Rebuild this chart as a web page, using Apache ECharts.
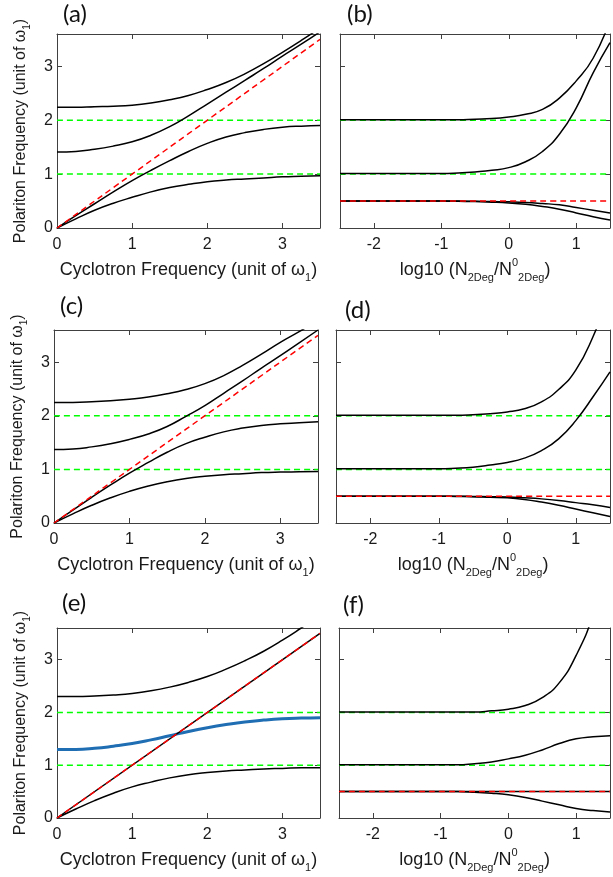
<!DOCTYPE html>
<html>
<head>
<meta charset="utf-8">
<title>Polariton frequencies</title>
<script src="https://cdn.jsdelivr.net/npm/echarts@6.0.0/dist/echarts.min.js"></script>
<style>
  html, body { margin: 0; padding: 0; background: #fff; }
  #chart { width: 613px; height: 877px; }
</style>
</head>
<body>
<div id="chart"></div>
<script>
// sample positions: cyclotron frequency (left column), log10 density (right column)
const xCyc = [0, 0.25, 0.5, 0.75, 1, 1.25, 1.5, 1.75, 2, 2.25, 2.5, 2.75, 3, 3.25, 3.5];
const xLog = [-2.5, -2, -1.5, -1, -0.75, -0.5, -0.25, 0, 0.25, 0.5, 0.75, 1, 1.25, 1.5];

// (a)
const aLow  = [0, 0.17, 0.33, 0.46, 0.57, 0.67, 0.75, 0.81, 0.86, 0.89, 0.91, 0.93, 0.95, 0.96, 0.97];
const aMid1 = [0, 0.23, 0.45, 0.67, 0.88, 1.07, 1.25, 1.42, 1.57, 1.69, 1.77, 1.83, 1.87, 1.89, 1.9];
const aMid2 = [1.41, 1.42, 1.46, 1.52, 1.6, 1.72, 1.88, 2.08, 2.3, 2.52, 2.74, 2.96, 3.19, 3.41, 3.64];
const aUp   = [2.24, 2.24, 2.25, 2.26, 2.28, 2.32, 2.38, 2.46, 2.57, 2.7, 2.86, 3.05, 3.26, 3.48, 3.71];
// (c)
const cLow  = [0, 0.17, 0.33, 0.47, 0.59, 0.69, 0.77, 0.83, 0.87, 0.9, 0.92, 0.94, 0.95, 0.955, 0.96];
const cMid1 = [0, 0.24, 0.48, 0.71, 0.93, 1.13, 1.32, 1.48, 1.6, 1.7, 1.77, 1.82, 1.85, 1.87, 1.89];
const cMid2 = [1.37, 1.38, 1.42, 1.48, 1.56, 1.66, 1.8, 1.99, 2.19, 2.42, 2.65, 2.89, 3.12, 3.36, 3.6];
const cUp   = [2.25, 2.25, 2.26, 2.28, 2.31, 2.35, 2.41, 2.49, 2.6, 2.75, 2.94, 3.15, 3.37, 3.57, 3.78];
// (e)
const eLow  = [0, 0.17, 0.33, 0.47, 0.59, 0.68, 0.76, 0.82, 0.86, 0.89, 0.91, 0.93, 0.94, 0.95, 0.95];
const eBlue = [1.3, 1.3, 1.32, 1.36, 1.41, 1.48, 1.56, 1.64, 1.71, 1.77, 1.82, 1.855, 1.88, 1.893, 1.9];
const eUp   = [2.3, 2.3, 2.31, 2.33, 2.36, 2.41, 2.48, 2.57, 2.68, 2.82, 2.98, 3.16, 3.37, 3.6, 3.84];
// (b)
const bUp   = [2.01, 2.01, 2.01, 2.01, 2.01, 2.02, 2.03, 2.06, 2.11, 2.2, 2.41, 2.73, 3.15, 3.85];
const bMid  = [1.01, 1.01, 1.01, 1.01, 1.02, 1.04, 1.07, 1.12, 1.23, 1.42, 1.74, 2.23, 2.88, 3.44];
const bLowA = [0.5, 0.5, 0.5, 0.5, 0.5, 0.495, 0.49, 0.485, 0.475, 0.455, 0.43, 0.38, 0.33, 0.28];
const bLowB = [0.5, 0.5, 0.5, 0.5, 0.495, 0.49, 0.48, 0.465, 0.44, 0.4, 0.35, 0.28, 0.21, 0.15];
// (d)
const dUp   = [2.01, 2.01, 2.01, 2.01, 2.01, 2.02, 2.04, 2.07, 2.13, 2.26, 2.49, 2.85, 3.47, 4.3];
const dMid  = [1.01, 1.01, 1.01, 1.01, 1.02, 1.04, 1.08, 1.13, 1.21, 1.35, 1.57, 1.91, 2.35, 2.82];
const dLowA = [0.5, 0.5, 0.5, 0.5, 0.5, 0.495, 0.49, 0.485, 0.47, 0.45, 0.42, 0.38, 0.34, 0.29];
const dLowB = [0.5, 0.5, 0.5, 0.5, 0.495, 0.49, 0.48, 0.47, 0.44, 0.39, 0.33, 0.26, 0.19, 0.12];
// (f)
const fUp   = [2.01, 2.01, 2.01, 2.01, 2.01, 2.01, 2.03, 2.06, 2.13, 2.28, 2.56, 3.08, 3.85, 5.0];
const fMid  = [1.01, 1.01, 1.01, 1.01, 1.01, 1.03, 1.06, 1.12, 1.19, 1.29, 1.41, 1.5, 1.54, 1.56];
const fLow  = [0.5, 0.5, 0.5, 0.5, 0.5, 0.49, 0.47, 0.44, 0.39, 0.32, 0.25, 0.18, 0.14, 0.115];

// straight reference lines
const cycSpan = [0, 3.5];
const logSpan = [-2.5, 1.5];
const cyclotronLine = [0, 3.5];   // y = x
const cavityModes = [1, 2];
const bareLevel = 0.5;
const yRange = [0, 3.6];

const panelTags = ['(a)', '(b)', '(c)', '(d)', '(e)', '(f)'];

const BLACK = '#000';
const GREEN = '#00ff00';
const RED = '#ff0000';
const BLUE = '#1f6db3';
const AXIS = '#404040';
const TEXT = '#1a1a1a';
const FONT = 'Liberation Sans, Arial, sans-serif';

const xNameCyc = '{n|Cyclotron Frequency (unit of ω}{s|1}{n|)}';
const xNameLog = '{n|log10 (N}{s|2Deg}{n|/N}{p|0}{s|2Deg}{n|)}';
const yName = '{n|Polariton Frequency (unit of ω}{s|1}{n|)}';

const panels = [
  { side: 'cyc', box: [57, 34, 263, 194], tag: [63, 2],
    black: [[xCyc, aLow], [xCyc, aMid1], [xCyc, aMid2], [xCyc, aUp]] },
  { side: 'log', box: [340, 34, 274, 194], tag: [347, 2],
    black: [[xLog, bUp], [xLog, bMid], [xLog, bLowA], [xLog, bLowB]] },
  { side: 'cyc', box: [54, 330, 264, 193], tag: [60, 294],
    black: [[xCyc, cLow], [xCyc, cMid1], [xCyc, cMid2], [xCyc, cUp]] },
  { side: 'log', box: [336, 330, 277, 193], tag: [345, 298],
    black: [[xLog, dUp], [xLog, dMid], [xLog, dLowA], [xLog, dLowB]] },
  { side: 'cyc', box: [57, 628, 263, 190], tag: [62, 591],
    black: [[xCyc, eLow], [xCyc, eUp], [cycSpan, cyclotronLine]], blue: [xCyc, eBlue] },
  { side: 'log', box: [339, 628, 274, 190], tag: [343, 593],
    black: [[xLog, fUp], [xLog, fMid], [logSpan, [bareLevel, bareLevel]], [xLog, fLow]] },
];

const intLabel = v => (Math.abs(v - Math.round(v)) < 1e-9 ? String(Math.round(v)) : '');

const richX = {
  n: { fontSize: 18, lineHeight: 26, fontFamily: FONT, color: TEXT, verticalAlign: 'middle' },
  s: { fontSize: 11, lineHeight: 11, fontFamily: FONT, color: TEXT, verticalAlign: 'bottom' },
  p: { fontSize: 11, lineHeight: 11, fontFamily: FONT, color: TEXT, verticalAlign: 'top' },
};
const richY = {
  n: { fontSize: 16, lineHeight: 22, fontFamily: FONT, color: TEXT, verticalAlign: 'middle' },
  s: { fontSize: 10, lineHeight: 10, fontFamily: FONT, color: TEXT, verticalAlign: 'bottom' },
};

function axisBase(gi, range, pos, labels) {
  return {
    type: 'value', gridIndex: gi, position: pos, min: range[0], max: range[1],
    minInterval: 1, maxInterval: 1,
    axisLine: { show: true, onZero: false, lineStyle: { color: AXIS, width: 1 } },
    axisTick: { show: true, inside: true, length: 5, lineStyle: { color: AXIS, width: 1 } },
    axisLabel: { show: labels, fontSize: 16, fontFamily: FONT, color: TEXT, formatter: intLabel },
    splitLine: { show: false },
  };
}

const grids = [], xAxes = [], yAxes = [], series = [];

function line(gi, xs, ys, color, width, dashed, z) {
  series.push({
    type: 'line', xAxisIndex: 2 * gi, yAxisIndex: 2 * gi,
    data: xs.map((x, k) => [x, ys[k]]),
    symbol: 'none', showSymbol: false, smooth: 0.5, silent: true, z: z,
    lineStyle: { color: color, width: width, type: dashed ? [6, 4] : 'solid' },
  });
}

panels.forEach((p, gi) => {
  const [l, t, w, h] = p.box;
  grids.push({ left: l, top: t, width: w, height: h, show: false });
  const xr = p.side === 'cyc' ? cycSpan : logSpan;

  const xb = axisBase(gi, xr, 'bottom', true);
  xb.axisLabel.margin = 9;
  xb.name = p.side === 'cyc' ? xNameCyc : xNameLog;
  xb.nameLocation = 'middle';
  xb.nameGap = 29;
  xb.nameTextStyle = { rich: richX };
  xAxes.push(xb, axisBase(gi, xr, 'top', false));

  const yl = axisBase(gi, yRange, 'left', p.side === 'cyc');
  yl.axisLabel.margin = 4;
  if (p.side === 'cyc') {
    yl.name = yName;
    yl.nameLocation = 'middle';
    yl.nameRotate = 90;
    yl.nameGap = 25;
    yl.nameTextStyle = { rich: richY };
  }
  yAxes.push(yl, axisBase(gi, yRange, 'right', false));

  // cavity modes
  cavityModes.forEach(m => line(gi, xr, [m, m], GREEN, 1.5, true, 2));
  // polariton branches
  if (p.blue) line(gi, p.blue[0], p.blue[1], BLUE, 3, false, 3);
  p.black.forEach(c => line(gi, c[0], c[1], BLACK, 1.5, false, 3));
  // bare cyclotron / bare level
  if (p.side === 'cyc') line(gi, cycSpan, cyclotronLine, RED, 1.5, true, 4);
  else line(gi, logSpan, [bareLevel, bareLevel], RED, 1.5, true, 4);
});

const graphic = panels.map((p, i) => ({
  type: 'text', left: p.tag[0], top: p.tag[1], silent: true,
  style: { text: panelTags[i], font: '24px Lato, "Open Sans", sans-serif', fill: '#111' },
}));

const chart = echarts.init(document.getElementById('chart'), null, { renderer: 'canvas' });
chart.setOption({
  animation: false,
  backgroundColor: '#fff',
  grid: grids,
  xAxis: xAxes,
  yAxis: yAxes,
  series: series,
  graphic: graphic,
});
window.addEventListener('resize', () => chart.resize());
</script>
</body>
</html>
